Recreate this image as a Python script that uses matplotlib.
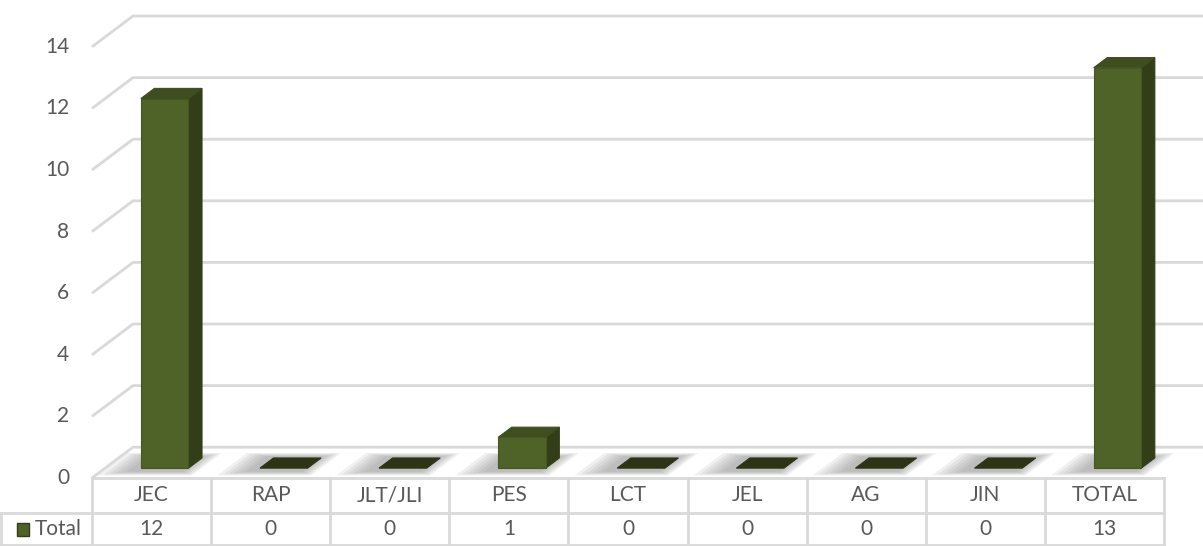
import matplotlib
matplotlib.use('Agg')
import matplotlib.pyplot as plt
from matplotlib.patches import Polygon

categories = ['JEC', 'RAP', 'JLT/JLI', 'PES', 'LCT', 'JEL', 'AG', 'JIN', 'TOTAL']
values = [12, 0, 0, 1, 0, 0, 0, 0, 13]
series_name = 'Total'
y_ticks = [0, 2, 4, 6, 8, 10, 12, 14]

# fake 3d: depth offset of the back wall, in data units
DX, DY = 0.344, 1.0
T0, T1 = 0.32, 0.65   # bar front/back depth
W = 0.40              # bar width

FRONT = '#4f6228'
SIDE = '#323e18'
TOP = '#3f4e1f'
FLAT = '#2b3515'
GRID = '#d9d9d9'
TXT = '#595959'
FS = 15

plt.rcParams['font.family'] = ['Lato', 'DejaVu Sans']


def off(x, y, t):
    return (x + t * DX, y + t * DY)


def main():
    fig = plt.figure(figsize=(12.03, 5.46), dpi=100)
    ax = fig.add_axes([0, 0, 1, 1])
    ax.set_xlim(-0.7725, 9.328)
    ax.set_ylim(-2.208, 15.52)
    ax.axis('off')

    n = len(categories)
    x_end = ax.get_xlim()[1] + 1

    # gridlines: left side wall diagonal + back wall
    for v in y_ticks:
        ax.plot([0, DX, x_end], [v, v + DY, v + DY], color=GRID, lw=2, zorder=1,
                solid_capstyle='butt')
        ax.text(-0.19, v, str(v), ha='right', va='center', fontsize=FS, color=TXT)

    # floor shadows, soft edges from stacked translucent polygons
    for i, v in enumerate(values):
        xl = i + 0.5 - W / 2
        xr = i + 0.5 + W / 2
        for k in range(6):
            g = 0.022 * k
            pts = [off(xl - 0.08 - 1.8 * g, 0, T0 - 0.12 - g),
                   off(xr + 0.0 + g, 0, T0 - 0.12 - g),
                   off(xr + 0.0 + g, 0, T1 + 0.05 + g),
                   off(xl - 0.08 - 1.8 * g, 0, T1 + 0.05 + g)]
            ax.add_patch(Polygon(pts, closed=True, facecolor='#7f7f7f', alpha=0.11,
                                 edgecolor='none', zorder=2))

    # bars
    for i, v in enumerate(values):
        xl = i + 0.5 - W / 2
        xr = i + 0.5 + W / 2
        if v == 0:
            pts = [off(xl, 0, T0), off(xr, 0, T0), off(xr, 0, T1), off(xl, 0, T1)]
            ax.add_patch(Polygon(pts, closed=True, facecolor=FLAT, edgecolor=FLAT,
                                 lw=0.8, zorder=3))
            continue
        side = [off(xr, 0, T0), off(xr, 0, T1), off(xr, v, T1), off(xr, v, T0)]
        top = [off(xl, v, T0), off(xr, v, T0), off(xr, v, T1), off(xl, v, T1)]
        front = [off(xl, 0, T0), off(xr, 0, T0), off(xr, v, T0), off(xl, v, T0)]
        ax.add_patch(Polygon(side, closed=True, facecolor=SIDE, edgecolor=SIDE, lw=0.8, zorder=3))
        ax.add_patch(Polygon(top, closed=True, facecolor=TOP, edgecolor=TOP, lw=0.8, zorder=3))
        ax.add_patch(Polygon(front, closed=True, facecolor=FRONT, edgecolor='#46581f',
                             lw=0.8, zorder=4))

    # data table
    row1 = -1.136
    row2 = -2.208
    xl_cell = ax.get_xlim()[0] + 0.01
    ax.plot([0, n], [0, 0], color=GRID, lw=2, zorder=1)
    ax.plot([xl_cell, n], [row1, row1], color=GRID, lw=2, zorder=1)
    ax.plot([xl_cell, n], [row2 + 0.02, row2 + 0.02], color=GRID, lw=2, zorder=1)
    ax.plot([xl_cell, xl_cell], [row1, row2], color=GRID, lw=2, zorder=1)
    for j in range(n + 1):
        ax.plot([j, j], [0, row2], color=GRID, lw=2, zorder=1)
    for i, (c, v) in enumerate(zip(categories, values)):
        ax.text(i + 0.5, row1 / 2, c, ha='center', va='center', fontsize=FS, color=TXT)
        ax.text(i + 0.5, (row1 + row2) / 2, str(v), ha='center', va='center',
                fontsize=FS, color=TXT)

    # legend key
    ym = (row1 + row2) / 2
    ax.add_patch(Polygon([(-0.63, ym - 0.22), (-0.525, ym - 0.22), (-0.525, ym + 0.22),
                          (-0.63, ym + 0.22)], closed=True, facecolor=FRONT,
                         edgecolor=SIDE, lw=1, zorder=3))
    ax.text(-0.48, ym, series_name, ha='left', va='center', fontsize=FS, color=TXT)

    fig.savefig('out.png', dpi=100, facecolor='white')


if __name__ == '__main__':
    main()
